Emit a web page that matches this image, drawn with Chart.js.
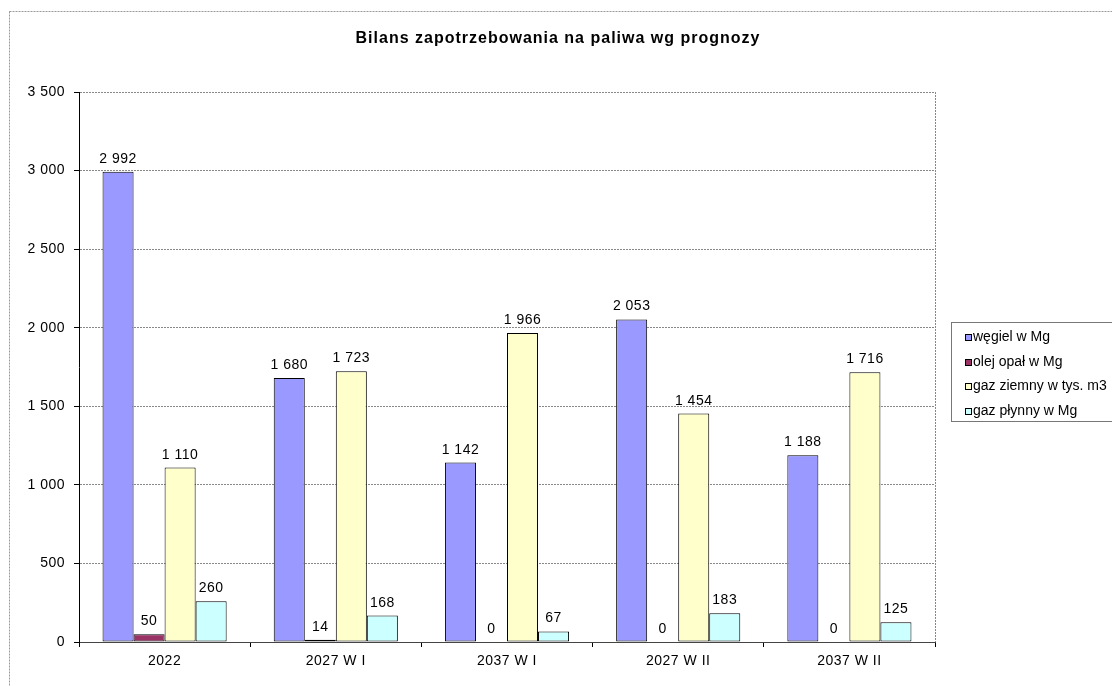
<!DOCTYPE html>
<html>
<head>
<meta charset="utf-8">
<title>Bilans zapotrzebowania na paliwa wg prognozy</title>
<script src="https://cdn.jsdelivr.net/npm/chart.js@4/dist/chart.umd.min.js"></script>
<style>
    html, body { margin: 0; padding: 0; background: #fff; }
    canvas { display: block; }
</style>
</head>
<body>
<canvas id="myChart" width="1112" height="686"></canvas>
<script>
const chartTitle = "Bilans zapotrzebowania na paliwa wg prognozy";
const categories = ["2022", "2027 W I", "2037 W I", "2027 W II", "2037 W II"];
const seriesNames = ["węgiel w Mg", "olej opał w Mg", "gaz ziemny w tys. m3", "gaz płynny w Mg"];
const wegiel = [2992, 1680, 1142, 2053, 1188];
const olej = [50, 14, 0, 0, 0];
const gazZiemny = [1110, 1723, 1966, 1454, 1716];
const gazPlynny = [260, 168, 67, 183, 125];
const yMax = 3500;
const yStep = 500;

const colors = ["#9999FF", "#993366", "#FFFFCC", "#CCFFFF"];
const fontFamily = "'Liberation Sans', Arial, sans-serif";

function fmt(n) {
    return String(n).replace(/\B(?=(\d{3})+(?!\d))/g, " ");
}

// Excel-ish wide letter spacing for all canvas text
const spacing = {
    id: "spacing",
    beforeLayout(chart) { chart.ctx.letterSpacing = "0.5px"; },
    beforeDraw(chart) { chart.ctx.letterSpacing = "0.5px"; }
};

const decor = {
    id: "decor",
    beforeDraw(chart) {
        const ctx = chart.ctx;
        const a = chart.chartArea;
        ctx.save();
        // outer frame
        ctx.strokeStyle = "#999";
        ctx.lineWidth = 1;
        ctx.setLineDash([2, 1]);
        ctx.strokeRect(9.5, 11.5, 1200, 1000);
        // plot area right edge
        ctx.strokeStyle = "#888";
        ctx.beginPath();
        ctx.moveTo(Math.round(a.right) + 0.5, a.top);
        ctx.lineTo(Math.round(a.right) + 0.5, a.bottom);
        ctx.stroke();
        ctx.restore();

        // title
        ctx.save();
        ctx.fillStyle = "#000";
        ctx.font = "bold 16px " + fontFamily;
        ctx.letterSpacing = "1px";
        ctx.textAlign = "center";
        ctx.textBaseline = "middle";
        ctx.fillText(chartTitle, 558, 39);
        ctx.restore();
    },
    afterDatasetsDraw(chart) {
        const ctx = chart.ctx;
        ctx.save();
        ctx.fillStyle = "#000";
        ctx.font = "14px " + fontFamily;
        ctx.letterSpacing = "0.5px";
        ctx.textAlign = "center";
        ctx.textBaseline = "alphabetic";
        chart.data.datasets.forEach((ds, i) => {
            const meta = chart.getDatasetMeta(i);
            meta.data.forEach((bar, j) => {
                ctx.fillText(fmt(ds.data[j]), bar.x, bar.y - 9);
            });
        });
        ctx.restore();
    },
    afterDraw(chart) {
        const ctx = chart.ctx;
        ctx.save();
        // legend box
        ctx.strokeStyle = "#777";
        ctx.lineWidth = 1;
        ctx.strokeRect(951.5, 322.5, 170, 99);
        ctx.font = "14px " + fontFamily;
        ctx.letterSpacing = "0px";
        ctx.textBaseline = "middle";
        ctx.textAlign = "left";
        chart.data.datasets.forEach((ds, i) => {
            const y = Math.round(337 + i * 24.5);
            ctx.fillStyle = ds.backgroundColor;
            ctx.fillRect(965, y - 3, 7, 7);
            ctx.strokeStyle = "#000";
            ctx.strokeRect(965.5, y - 2.5, 6, 6);
            ctx.fillStyle = "#000";
            ctx.fillText(ds.label, 973, y);
        });
        ctx.restore();
    }
};

const seriesData = [wegiel, olej, gazZiemny, gazPlynny];

const ctx = document.getElementById("myChart").getContext("2d");
const chart = new Chart(ctx, {
    type: "bar",
    data: {
        labels: categories,
        datasets: seriesNames.map((name, i) => ({
            label: name,
            data: seriesData[i],
            backgroundColor: colors[i],
            borderColor: "#000",
            borderWidth: c => (c.raw === 0 ? 0 : 1),
            borderSkipped: false,
            categoryPercentage: 0.725,
            barPercentage: 1
        }))
    },
    options: {
        responsive: false,
        animation: false,
        layout: { padding: { top: 92, right: 177, left: 0, bottom: 0 } },
        plugins: {
            legend: { display: false },
            title: { display: false },
            tooltip: { enabled: false }
        },
        scales: {
            x: {
                grid: {
                    offset: true,
                    drawOnChartArea: false,
                    tickColor: "#000",
                    tickLength: 5
                },
                border: { color: "#444" },
                ticks: {
                    color: "#000",
                    padding: 6,
                    font: { family: fontFamily, size: 14 }
                },
                afterFit(scale) { scale.height = 44; }
            },
            y: {
                min: 0,
                max: yMax,
                grid: {
                    color: "#888",
                    tickColor: "#000",
                    tickLength: 5
                },
                border: { color: "#000", dash: [2, 1] },
                ticks: {
                    stepSize: yStep,
                    color: "#000",
                    padding: 9,
                    font: { family: fontFamily, size: 14 },
                    callback: v => fmt(v)
                },
                afterFit(scale) { scale.width = 79; }
            }
        }
    },
    plugins: [spacing, decor]
});
</script>
</body>
</html>
